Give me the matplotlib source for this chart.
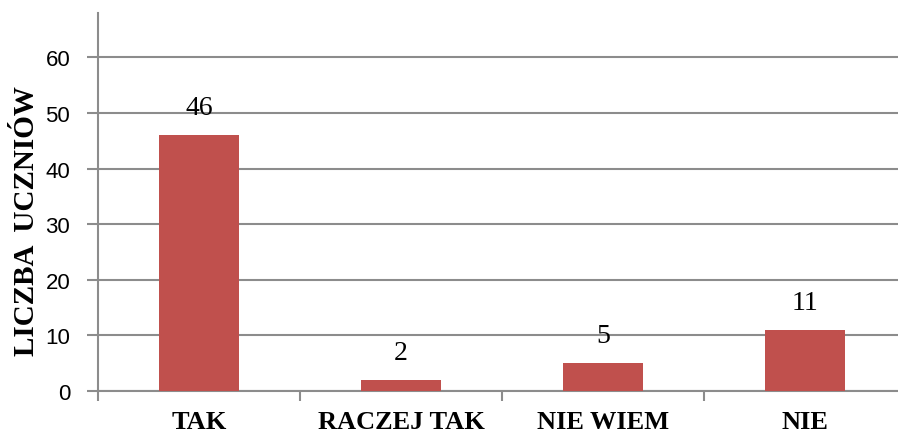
import matplotlib
matplotlib.use("Agg")
import matplotlib.pyplot as plt
from matplotlib.ticker import FixedLocator

categories = ["TAK", "RACZEJ TAK", "NIE WIEM", "NIE"]
values = [46, 2, 5, 11]
y_ticks = [0, 10, 20, 30, 40, 50, 60]
y_label = "LICZBA  UCZNIÓW"

W, H = 898, 435
fig = plt.figure(figsize=(W / 100, H / 100), dpi=100)
left, right = 98 / W, 906 / W
bottom, top = 1 - 392 / H, 1 - 14 / H
ax = fig.add_axes([left, bottom, right - left, top - bottom])

grid_col = "#8c8c8c"
x = list(range(len(categories)))
ax.bar(x, values, width=0.4, color="#C0504D", zorder=3)
ax.set_xlim(-0.5, len(categories) - 0.5)
ax.set_ylim(0, 68)

ax.set_yticks(y_ticks)
ax.set_yticklabels([str(v) for v in y_ticks], fontsize=16, family="Liberation Sans")
ax.yaxis.grid(True, color=grid_col, linewidth=1.5, zorder=0)
ax.tick_params(axis="y", length=8, width=1.5, color=grid_col, pad=12)

ax.set_xticks(x)
ax.set_xticklabels(categories, fontsize=19, family="Liberation Serif", fontweight="bold")
ax.xaxis.set_minor_locator(FixedLocator([i - 0.5 for i in range(len(categories) + 1)]))
ax.tick_params(axis="x", which="major", length=0, pad=14)
ax.tick_params(axis="x", which="minor", length=7, width=1.5, color=grid_col)

for s in ["top", "right"]:
    ax.spines[s].set_visible(False)
ax.spines["left"].set_color(grid_col)
ax.spines["left"].set_linewidth(1.5)
ax.spines["bottom"].set_color(grid_col)
ax.spines["bottom"].set_linewidth(1.5)

for xi, v in zip(x, values):
    ax.annotate(str(v), (xi, v), xytext=(0, 11), textcoords="offset points",
                ha="center", va="bottom", fontsize=20, family="Liberation Serif")

fig.text(27 / W, 1 - 221 / H, y_label, rotation=90, ha="center", va="center",
         fontsize=21, family="Liberation Serif", fontweight="bold")

fig.savefig("out.png", dpi=100)
